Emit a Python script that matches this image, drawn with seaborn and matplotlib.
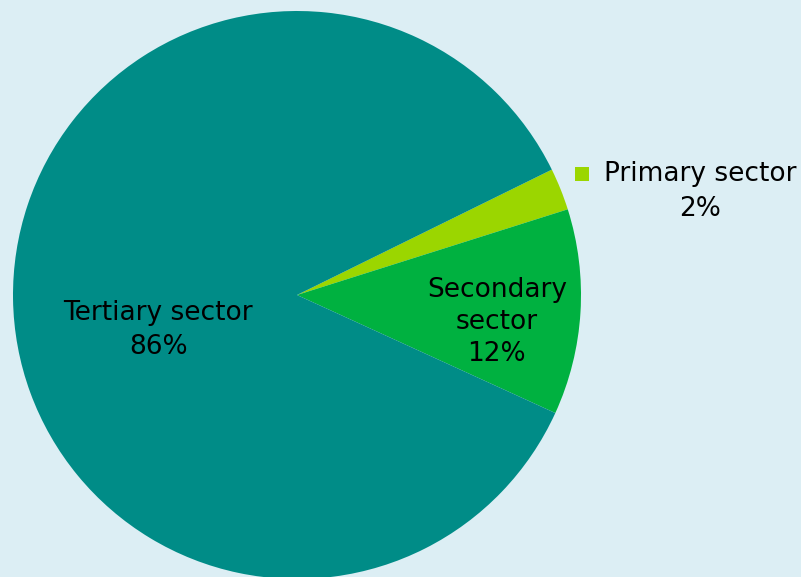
import matplotlib.pyplot as plt
import seaborn as sns

sns.set_style("white")
plt.rcParams['font.family'] = ['DejaVu Sans']

# share of employment by sector
sectors = ["Primary sector", "Secondary sector", "Tertiary sector"]
shares = [2.4, 11.7, 85.9]
colors = sns.color_palette(["#9bd600", "#00b140", "#008c87"])
bg = "#dceef4"

fig = plt.figure(figsize=(8.01, 5.77), dpi=100, facecolor=bg)
ax = fig.add_axes([0, 0, 1, 1])
ax.set_facecolor(bg)

wedges, _ = ax.pie(shares, colors=colors, startangle=26.2, counterclock=False,
                   radius=1, wedgeprops=dict(linewidth=0))

# pixel-ish layout: centre at (297, 295), radius 284 px
r = 284
ax.set_xlim(-297 / r, (801 - 297) / r)
ax.set_ylim(-(577 - 295) / r, 295 / r)
ax.set_aspect("equal")
ax.axis("off")

fs = 19
ax.text(-0.489, -0.123, f"Tertiary sector\n{shares[2]:.0f}%", ha="center", va="center",
        fontsize=fs, color="black", linespacing=1.4)
ax.text(0.704, -0.095, f"Secondary\nsector\n{shares[1]:.0f}%", ha="center", va="center",
        fontsize=fs, color="black", linespacing=1.32)

# primary sector label sits outside like a legend entry
ax.scatter([1.004], [0.426], marker="s", s=115, color=colors[0], linewidths=0, clip_on=False)
ax.text(1.419, 0.426, sectors[0], ha="center", va="center", fontsize=fs, color="black")
ax.text(1.419, 0.303, f"{shares[0]:.0f}%", ha="center", va="center", fontsize=fs, color="black")

fig.savefig("out.png", dpi=100, facecolor=bg)
